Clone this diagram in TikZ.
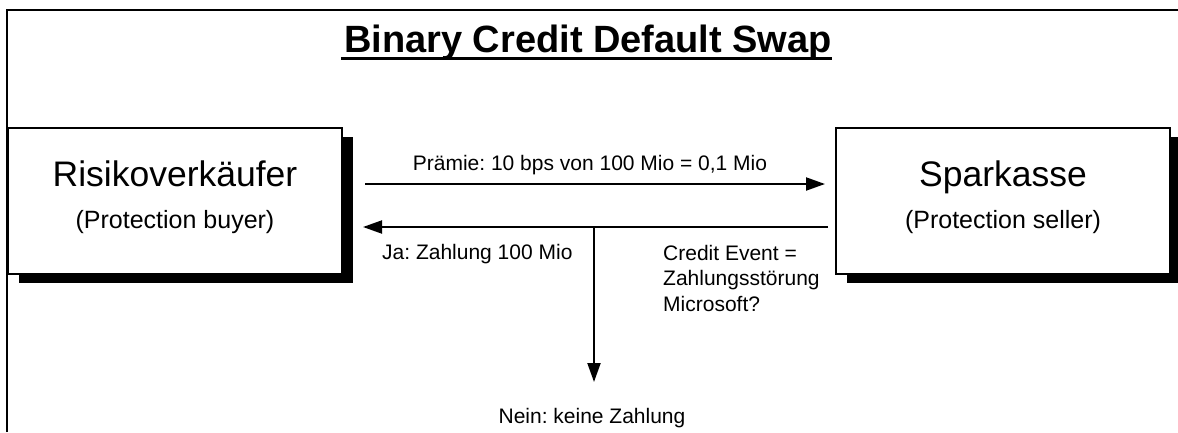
\documentclass[tikz,border=0pt]{standalone}
\usepackage{fontspec}
\setmainfont{Liberation Sans}
\usetikzlibrary{arrows.meta,shadows}
\frenchspacing
\begin{document}
\begin{tikzpicture}[x=1pt,y=-1pt,
  box/.style={draw=black, line width=2pt, fill=white, minimum width=334pt, minimum height=146pt,
    inner sep=0pt, anchor=north west,
    drop shadow={shadow xshift=11pt, shadow yshift=-9pt, opacity=1, fill=black}},
  txt/.style={inner sep=0pt, anchor=base},
  big/.style={font=\fontsize{35.5}{42}\selectfont},
  sub/.style={font=\fontsize{25}{30}\selectfont},
  lbl/.style={font=\fontsize{21}{25.5}\selectfont, inner sep=0pt},
  conn/.style={line width=2pt, -{Triangle[length=19pt,width=13pt]}},
  frame/.style={line width=2.5pt},
]
\useasboundingbox (0,0) rectangle (1178,432);
% frame (cropped on right and bottom)
\draw[frame] (7,432) -- (7,10) -- (1178,10);

% title
\node[txt, font=\bfseries\fontsize{38}{46}\selectfont] (title) at (588,52) {Binary Credit Default Swap};
\draw[line width=3.3pt] ([xshift=-3pt,yshift=-6.3pt]title.base west) -- ([yshift=-6.3pt]title.base east);

% boxes
\node[box] (buyer) at (7,127) {};
\node[box] (seller) at (835,127) {};
\node[txt,big] (buyerT) at (buyer.center |- 0,186) {Risikoverkäufer};
\node[txt,sub] (buyerS) at (buyer.center |- 0,228) {(Protection buyer)};
\node[txt,big] (sellerT) at (seller.center |- 0,186) {Sparkasse};
\node[txt,sub] (sellerS) at (seller.center |- 0,228) {(Protection seller)};

% connectors
\coordinate (a1) at (365,184);
\coordinate (a2) at (825,184);
\draw[conn] (a1) -- (a2);
\node[lbl, anchor=base] (prem) at (590,170) {Prämie: 10 bps von 100 Mio = 0,1 Mio};

\coordinate (b1) at (828,227);
\coordinate (b2) at (363,227);
\draw[conn] (b1) -- (b2);
\coordinate (fork) at (594,227);
\coordinate (down) at (594,382);
\draw[conn] (fork) -- (down);

\node[lbl, anchor=base west] (ja) at (382,259) {Ja: Zahlung 100 Mio};
\node[lbl, anchor=north west, align=left] (ce) at (663,244.8) {Credit Event =\\Zahlungsstörung\\Microsoft?};
\node[lbl, anchor=base] (nein) at (592,423) {Nein: keine Zahlung};
\end{tikzpicture}
\end{document}
